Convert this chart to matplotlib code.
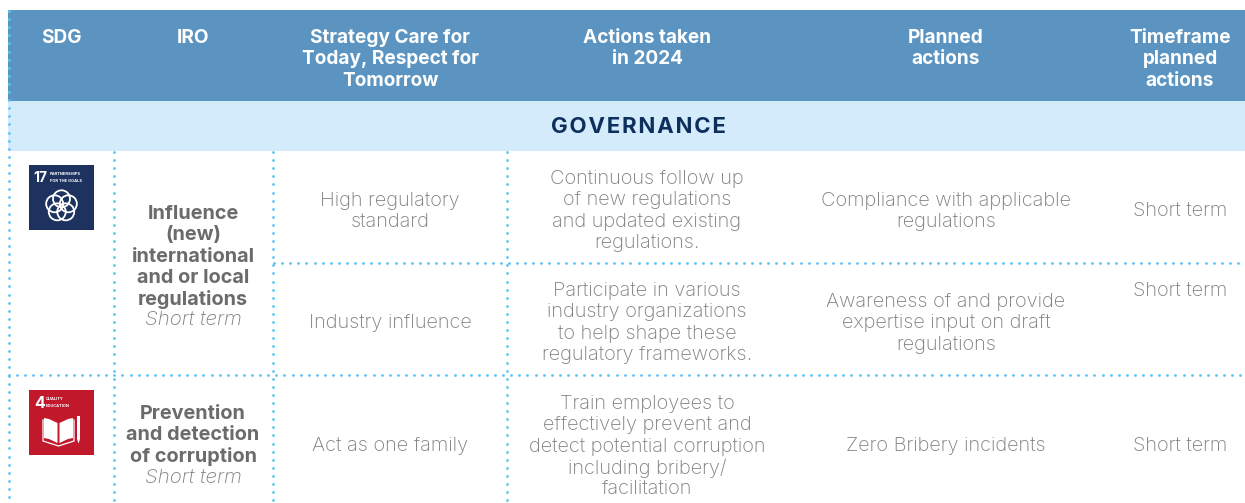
import numpy as np
import matplotlib.pyplot as plt
from matplotlib.patches import Rectangle, Circle, Polygon

plt.rcParams['font.family'] = ['Inter', 'DejaVu Sans']

# Table content
headers = ['SDG', 'IRO', 'Strategy Care for\nToday, Respect for\nTomorrow',
           'Actions taken\nin 2024', 'Planned\nactions', 'Timeframe\nplanned\nactions']
section = 'GOVERNANCE'
iro_names = ['Influence\n(new)\ninternational\nand or local\nregulations', 'Prevention\nand detection\nof corruption']
iro_term = 'Short term'
strategy = ['High regulatory\nstandard', 'Industry influence', 'Act as one family']
actions = ['Continuous follow up\nof new regulations\nand updated existing\nregulations.',
           'Participate in various\nindustry organizations\nto help shape these\nregulatory frameworks.',
           'Train employees to\neffectively prevent and\ndetect potential corruption\nincluding bribery/\nfacilitation']
planned = ['Compliance with applicable\nregulations',
           'Awareness of and provide\nexpertise input on draft\nregulations',
           'Zero Bribery incidents']
timeframe = ['Short term', 'Short term', 'Short term']

W, H = 1245, 503
fig = plt.figure(figsize=(W / 100, H / 100), dpi=100)
ax = fig.add_axes([0, 0, 1, 1])
ax.set_xlim(0, W)
ax.set_ylim(H, 0)
ax.axis('off')

col_x = [61, 193, 390, 647, 946, 1180]
line_gap = 21.3

# Bands
ax.add_patch(Rectangle((8, 10), W - 8, 91, color='#5b94c0', lw=0))
ax.add_patch(Rectangle((8, 101), W - 8, 50, color='#d3ebfb', lw=0))

dot = '#5cc6f4'


def vdots(x, y0, y1):
    ys = np.arange(y0, y1, 8.1)
    ax.plot([x] * len(ys), ys, ls='none', marker='o', ms=2.0, color=dot, mew=0)


def hdots(y, x0, x1):
    xs = np.arange(x0, x1, 8.1)
    ax.plot(xs, [y] * len(xs), ls='none', marker='o', ms=2.0, color=dot, mew=0)


vdots(8.5, 11, H + 3)
vdots(114, 152, H + 3)
vdots(273, 152, H + 3)
vdots(507, 152, H + 3)
hdots(263, 274, W)
hdots(375, 9, W)


def multiline(x, y_first, text, gap=line_gap, **kw):
    for i, line in enumerate(text.split('\n')):
        ax.text(x, y_first + i * gap, line, ha='center', va='center', **kw)


# Header
for x, h in zip(col_x, headers):
    multiline(x, 38, h, color='white', fontsize=13.7, fontweight='bold')
# hair spaces give the wide tracking of the section title
ax.text(638, 126.5, '\u200a'.join(section), ha='center', va='center', color='#0c2f5c',
        fontsize=16, fontweight='bold')

grey = '#7f7f7f'
body = dict(color=grey, fontsize=14.4, fontweight='light')
term = dict(color=grey, fontsize=14.8, style='italic', fontweight='light')

# IRO column
bold = dict(color='#6b6b6b', fontsize=14.3, fontweight='bold')
multiline(193, 214, iro_names[0], **bold)
ax.text(193, 320, iro_term, ha='center', va='center', **term)
multiline(193, 414, iro_names[1], **bold)
ax.text(193, 478, iro_term, ha='center', va='center', **term)

# Body columns
multiline(390, 200.5, strategy[0], **body)
multiline(390, 322.5, strategy[1], **body)
multiline(390, 446, strategy[2], **body)
multiline(647, 179, actions[0], **body)
multiline(647, 291, actions[1], **body)
multiline(647, 404, actions[2], **body)
multiline(946, 200.5, planned[0], **body)
multiline(946, 302, planned[1], **body)
multiline(946, 446, planned[2], **body)
ax.text(1180, 211, timeframe[0], ha='center', va='center', **body)
ax.text(1180, 291, timeframe[1], ha='center', va='center', **body)
ax.text(1180, 446, timeframe[2], ha='center', va='center', **body)

# SDG 17 icon
ax.add_patch(Rectangle((29, 165), 65, 65, color='#1e3260', lw=0))
ax.text(33, 178.5, '17', color='white', fontsize=10, fontweight='bold', ha='left', va='center')
ax.text(49.5, 174, 'PARTNERSHIPS', color='white', fontsize=2.9, fontweight='bold', ha='left', va='center')
ax.text(49.5, 181, 'FOR THE GOALS', color='white', fontsize=2.9, fontweight='bold', ha='left', va='center')
for a in np.deg2rad([-90, -18, 54, 126, 198]):
    ax.add_patch(Circle((61.5 + 7.2 * np.cos(a), 206 + 7.2 * np.sin(a)), 8.5, fill=False, ec='white', lw=1.3))

# SDG 4 icon
ax.add_patch(Rectangle((29, 390), 65, 65, color='#c1182b', lw=0))
ax.text(34, 403, '4', color='white', fontsize=11.5, fontweight='bold', ha='left', va='center')
ax.text(46, 398.5, 'QUALITY', color='white', fontsize=2.9, fontweight='bold', ha='left', va='center')
ax.text(46, 406, 'EDUCATION', color='white', fontsize=2.9, fontweight='bold', ha='left', va='center')
ax.add_patch(Polygon([(44, 418), (49, 419), (57.5, 423), (57.5, 443), (49, 439), (44, 438)], color='white', lw=0))
ax.add_patch(Polygon([(73, 418), (68, 419), (59.5, 423), (59.5, 443), (68, 439), (73, 438)], color='white', lw=0))
ax.plot([43, 43, 58.5, 74, 74], [420, 441, 446, 441, 420], color='white', lw=0.9)
ax.add_patch(Polygon([(77, 416), (80, 416), (80, 439), (78.5, 443.5), (77, 439)], color='white', lw=0))

fig.savefig('out.png', dpi=100)
